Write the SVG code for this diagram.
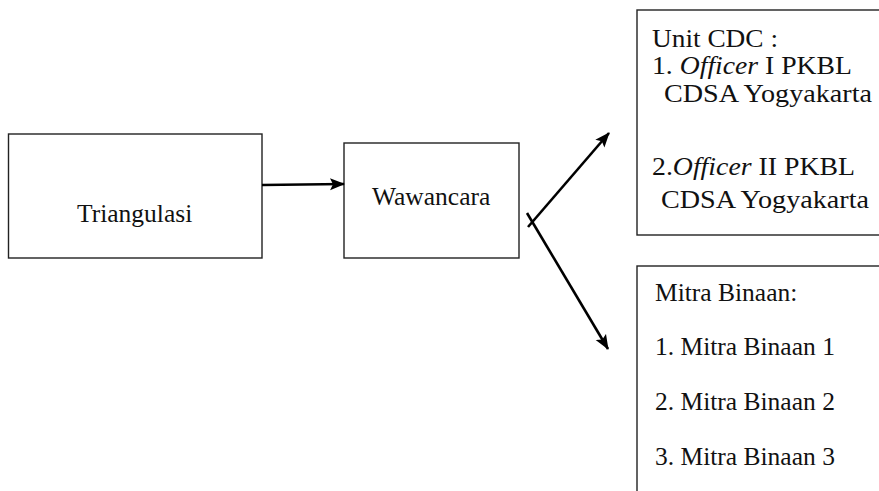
<svg xmlns="http://www.w3.org/2000/svg" width="879" height="491" viewBox="0 0 879 491">
<style>
.box{fill:#fff;stroke:#222;stroke-width:1.4}
.t{font-family:"Liberation Serif","Times New Roman",serif;font-size:25.5px;fill:#111}
.tl{font-family:"Liberation Serif","Times New Roman",serif;font-size:25px;fill:#111}
.c{stroke:#000;stroke-width:2.6;fill:none}
</style>
<defs>
<marker id="ah" markerUnits="userSpaceOnUse" markerWidth="16" markerHeight="14" refX="14" refY="7" orient="auto">
<path d="M0,1 L15,7 L0,13 L3,7 Z" fill="#000"/>
</marker>
</defs>
<rect width="879" height="491" fill="#fff"/>
<g id="triangulasi">
<rect class="box" x="8.5" y="134" width="253.5" height="124"/>
<text class="t" x="77" y="222">Triangulasi</text>
</g>
<g id="wawancara">
<rect class="box" x="344" y="143" width="175" height="115"/>
<text class="t" x="372" y="205">Wawancara</text>
</g>
<g id="unit-cdc">
<rect class="box" x="637" y="10" width="260" height="225"/>
<text class="tl" x="652" y="47" textLength="126" lengthAdjust="spacingAndGlyphs">Unit CDC :</text>
<text class="tl" x="652" y="74" textLength="200" lengthAdjust="spacingAndGlyphs">1. <tspan font-style="italic">Officer</tspan> I PKBL</text>
<text class="tl" x="664" y="102" textLength="208" lengthAdjust="spacingAndGlyphs">CDSA Yogyakarta</text>
<text class="tl" x="652" y="175" textLength="203" lengthAdjust="spacingAndGlyphs">2.<tspan font-style="italic">Officer</tspan> II PKBL</text>
<text class="tl" x="661" y="208" textLength="208" lengthAdjust="spacingAndGlyphs">CDSA Yogyakarta</text>
</g>
<g id="mitra-binaan">
<rect class="box" x="637" y="266" width="260" height="240"/>
<text class="t" x="655" y="301">Mitra Binaan:</text>
<text class="t" x="655" y="355">1. Mitra Binaan 1</text>
<text class="t" x="655" y="410">2. Mitra Binaan 2</text>
<text class="t" x="655" y="465">3. Mitra Binaan 3</text>
</g>
<g id="connectors">
<line class="c" x1="262" y1="185" x2="344" y2="184" marker-end="url(#ah)" stroke-width="3"/>
<line class="c" x1="528" y1="227" x2="609" y2="133" marker-end="url(#ah)"/>
<line class="c" x1="527" y1="213" x2="608" y2="349" marker-end="url(#ah)"/>
</g>
</svg>
